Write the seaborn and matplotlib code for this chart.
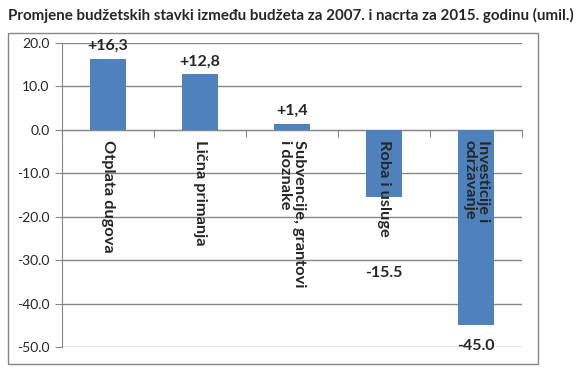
import numpy as np
import pandas as pd
import matplotlib
matplotlib.use("Agg")
import matplotlib.pyplot as plt
from matplotlib.patches import Rectangle
import seaborn as sns

# data
categories = ["Otplata dugova", "Lična primanja", "Subvencije, grantovi\ni doznake",
              "Roba i usluge", "Investicije i\nodržavanje"]
values = [16.3, 12.8, 1.4, -15.5, -45.0]
value_labels = ["+16,3", "+12,8", "+1,4", "-15.5", "-45.0"]
yticks = [20, 10, 0, -10, -20, -30, -40, -50]

title = "Promjene budžetskih stavki između budžeta za 2007. i nacrta za 2015. godinu (umil.)"

sns.set_style("white")
plt.rcParams['font.family'] = ['Lato', 'DejaVu Sans']

df = pd.DataFrame({"cat": categories, "val": values})

fig = plt.figure(figsize=(5.83, 3.73), dpi=100)
W, H = 583, 373
ax = fig.add_axes([62 / W, 1 - 347 / H, (522 - 62) / W, (347 - 42.7) / H])

sns.barplot(data=df, x="cat", y="val", color="#4F81BD", width=0.39,
            saturation=1, linewidth=0, ax=ax, zorder=3)

ax.set_ylim(-50, 20)
ax.set_xlim(-0.5, 4.5)
ax.set_yticks(yticks)
ax.set_yticklabels([f"{t:.1f}" for t in yticks], fontsize=10)
ax.set_xlabel("")
ax.set_ylabel("")

# gridlines / spines
ax.yaxis.grid(True, color="#868686", linewidth=1, zorder=0)
for s in ["top", "right"]:
    ax.spines[s].set_visible(False)
ax.spines["left"].set_color("#868686")
ax.spines["bottom"].set_color("#868686")
ax.spines["bottom"].set_position(("data", 0))
ax.spines["bottom"].set_zorder(2)
ax.tick_params(axis="y", length=5, color="#868686", left=True, pad=4)
ax.set_xticks(np.arange(-0.5, 5, 1.0))
ax.set_xticklabels([])
ax.tick_params(axis="x", length=5, color="#868686", bottom=True, direction="out")

# category labels inside plot, rotated
for i, c in enumerate(categories):
    ax.text(i, -2.4, c, rotation=-90, ha="center", va="top", multialignment="left",
            fontsize=11.8, fontweight="bold", zorder=5, linespacing=0.95)

# value labels
for i, (v, lab) in enumerate(zip(values, value_labels)):
    if v > 0:
        ax.annotate(lab, (i, v), xytext=(0, 4), textcoords="offset points",
                    ha="center", va="bottom", fontsize=11.5, fontweight="bold",
                    annotation_clip=False)
ax.text(3, -33, value_labels[3], ha="center", va="center", fontsize=11.5, fontweight="bold")
ax.text(4, -49.7, value_labels[4], ha="center", va="center", fontsize=11.5, fontweight="bold")

# outer chart border
fig.patches.append(Rectangle((8 / W, 1 - 364 / H), (538 - 8) / W, (364 - 33) / H,
                             transform=fig.transFigure, fill=False,
                             edgecolor="#868686", linewidth=1))

fig.text(8 / W, 1 - 15 / H, title, ha="left", va="center", fontsize=10.9, fontweight="bold")

fig.savefig("out.png", dpi=100)
